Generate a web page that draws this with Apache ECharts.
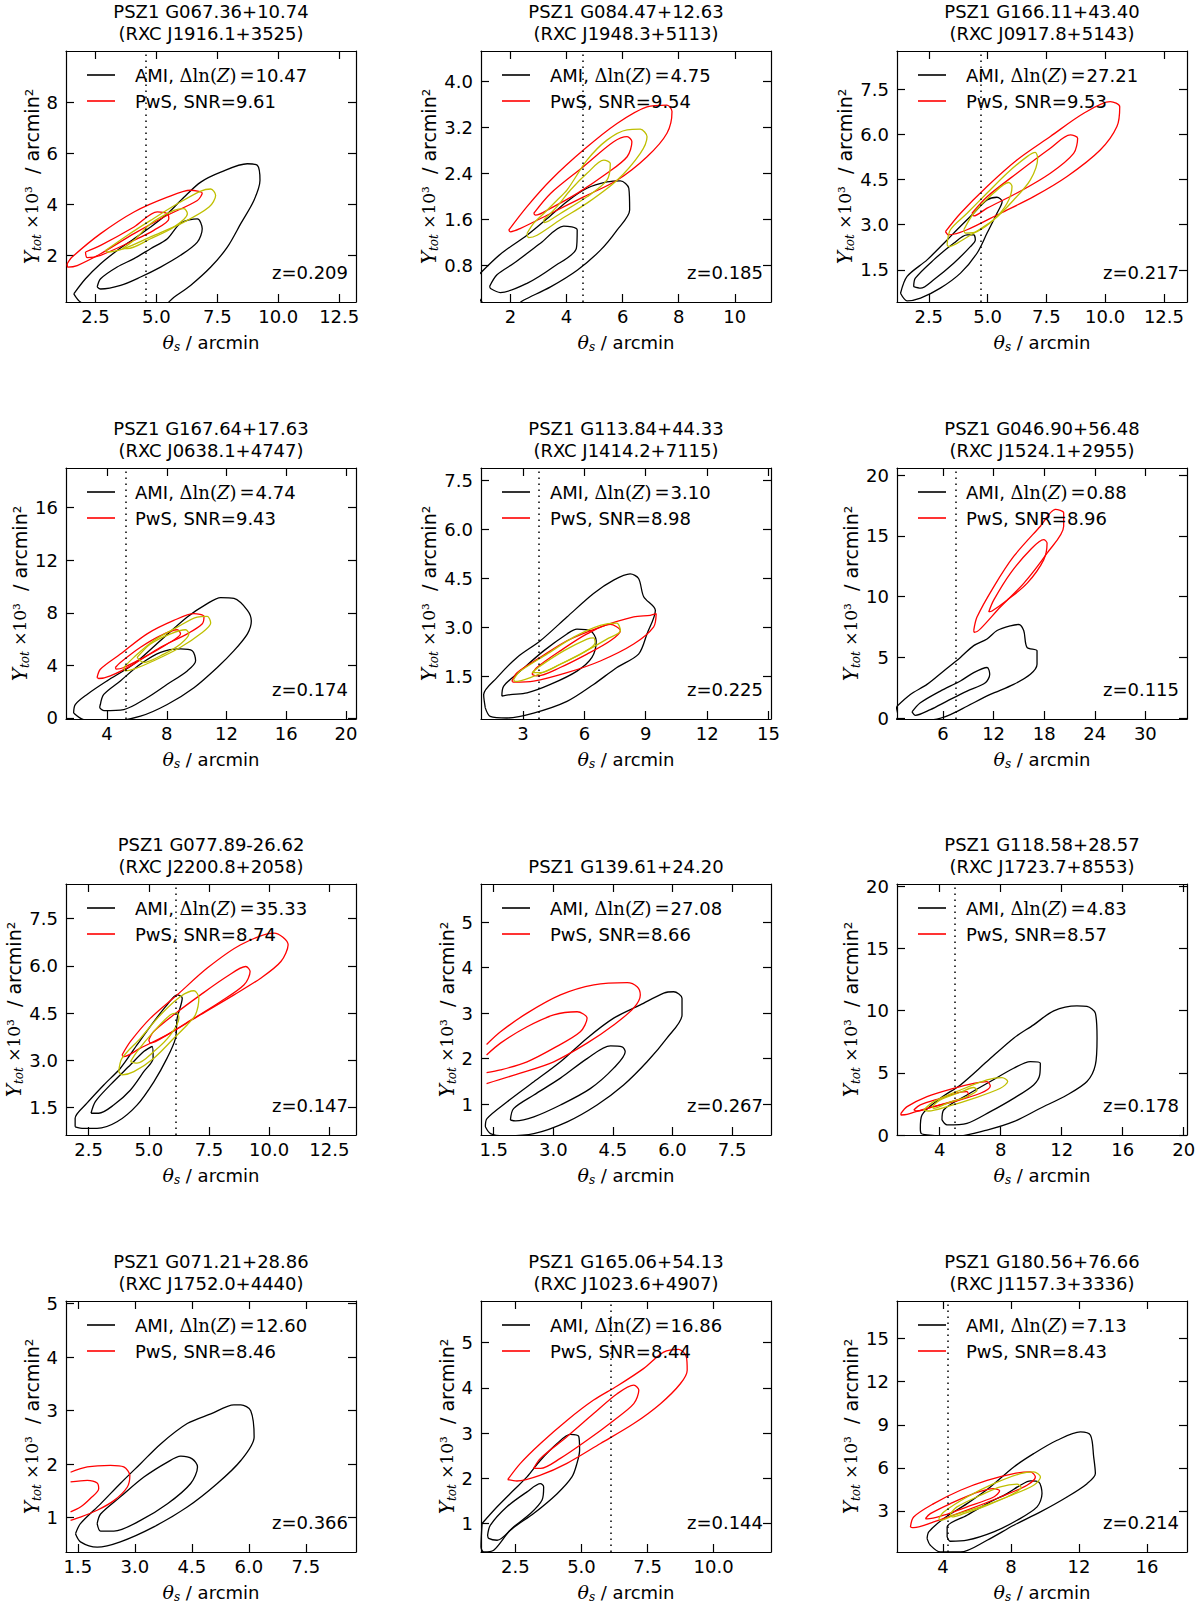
<!DOCTYPE html>
<html>
<head>
<meta charset="utf-8">
<script src="https://cdn.jsdelivr.net/npm/echarts@6/dist/echarts.min.js"></script>
<style>html,body{margin:0;padding:0;background:#fff}#main{width:1200px;height:1609px}</style>
</head>
<body>
<div id="main"></div>
<script>
// cluster names, one entry per panel (row by row)
const clusterNames = ['PSZ1 G067.36+10.74', 'PSZ1 G084.47+12.63', 'PSZ1 G166.11+43.40', 'PSZ1 G167.64+17.63',
  'PSZ1 G113.84+44.33', 'PSZ1 G046.90+56.48', 'PSZ1 G077.89-26.62', 'PSZ1 G139.61+24.20',
  'PSZ1 G118.58+28.57', 'PSZ1 G071.21+28.86', 'PSZ1 G165.06+54.13', 'PSZ1 G180.56+76.66'];
const rxcNames = ['(RXC J1916.1+3525)', '(RXC J1948.3+5113)', '(RXC J0917.8+5143)', '(RXC J0638.1+4747)',
  '(RXC J1414.2+7115)', '(RXC J1524.1+2955)', '(RXC J2200.8+2058)', '',
  '(RXC J1723.7+8553)', '(RXC J1752.0+4440)', '(RXC J1023.6+4907)', '(RXC J1157.3+3336)'];
const evidence = ['10.47', '4.75', '27.21', '4.74', '3.10', '0.88', '35.33', '27.08', '4.83', '12.60', '16.86', '7.13'];
const snr = ['9.61', '9.54', '9.53', '9.43', '8.98', '8.96', '8.74', '8.66', '8.57', '8.46', '8.44', '8.43'];
const redshift = ['0.209', '0.185', '0.217', '0.174', '0.225', '0.115', '0.147', '0.267', '0.178', '0.366', '0.144', '0.214'];
// dotted vertical line (theta_s), null = none
const thetaLine = [4.58, 4.59, 4.70, 5.25, 3.77, 7.54, 6.10, null, 4.98, null, 6.12, 4.27];

const xRange = [[1.29, 13.19], [0.95, 11.29], [1.15, 13.48], [1.25, 20.67], [0.95, 15.12], [0.54, 34.94],
  [1.56, 13.61], [1.18, 8.48], [1.2, 20.22], [1.19, 8.82], [1.2, 12.17], [1.29, 18.35]];
const yRange = [[0.16, 10.0], [0.155, 4.535], [0.43, 8.77], [-0.08, 19.02], [0.19, 7.89], [-0.08, 20.58],
  [0.63, 8.6], [0.32, 5.84], [0, 20.19], [0.36, 5.05], [0.37, 5.92], [0.14, 17.62]];

const xTickLabels = [
  ['2.5', '5.0', '7.5', '10.0', '12.5'], ['2', '4', '6', '8', '10'], ['2.5', '5.0', '7.5', '10.0', '12.5'],
  ['4', '8', '12', '16', '20'], ['3', '6', '9', '12', '15'], ['6', '12', '18', '24', '30'],
  ['2.5', '5.0', '7.5', '10.0', '12.5'], ['1.5', '3.0', '4.5', '6.0', '7.5'], ['4', '8', '12', '16', '20'],
  ['1.5', '3.0', '4.5', '6.0', '7.5'], ['2.5', '5.0', '7.5', '10.0'], ['4', '8', '12', '16']];
const yTickLabels = [
  ['2', '4', '6', '8'], ['0.8', '1.6', '2.4', '3.2', '4.0'], ['1.5', '3.0', '4.5', '6.0', '7.5'],
  ['0', '4', '8', '12', '16'], ['1.5', '3.0', '4.5', '6.0', '7.5'], ['0', '5', '10', '15', '20'],
  ['1.5', '3.0', '4.5', '6.0', '7.5'], ['1', '2', '3', '4', '5'], ['0', '5', '10', '15', '20'],
  ['1', '2', '3', '4', '5'], ['1', '2', '3', '4', '5'], ['3', '6', '9', '12', '15']];

// AMI contours (black)
const amiOuter = [
  [[1.61,0.48],[2.09,1.07],[2.71,1.66],[3.39,2.18],[4.08,2.64],[4.76,3.10],[5.45,3.62],[6.13,4.27],[6.82,4.86],[7.64,5.25],[8.73,5.58],[9.14,5.52],[9.25,4.93],[9.0,4.14],[8.46,3.23],[7.91,2.31],[7.23,1.53],[6.40,0.81],[5.72,0.35],[5.1,-0.1],[2.8,-0.1],[1.9,0.15]],
  [[0.81,0.60],[1.64,0.99],[2.59,1.32],[3.31,1.61],[4.02,1.91],[4.73,2.14],[5.44,2.25],[5.92,2.27],[6.22,2.14],[6.25,1.76],[5.80,1.41],[5.21,1.06],[4.38,0.71],[3.43,0.42],[2.48,0.19],[1.88,0.02],[1.05,0.13],[0.87,0.25]],
  [[1.30,0.72],[1.58,1.28],[2.43,1.83],[3.28,2.49],[3.70,2.83],[4.41,3.38],[4.98,3.82],[5.40,3.91],[5.62,3.77],[5.40,3.38],[4.98,2.72],[4.55,2.05],[3.85,1.39],[2.99,0.89],[2.15,0.56],[1.58,0.47]],
  [[1.76,0.38],[1.87,1.02],[2.66,1.79],[4.0,2.82],[5.79,4.10],[7.58,5.89],[9.37,7.68],[10.71,8.70],[11.61,9.16],[12.50,9.09],[13.40,8.19],[13.66,7.37],[13.40,6.40],[12.50,5.12],[11.38,3.84],[9.82,2.30],[8.03,1.02],[6.24,0.13],[4.22,-0.26],[2.43,-0.13]],
  [[1.16,0.53],[1.08,0.94],[1.73,1.46],[2.71,2.08],[3.85,2.59],[5.15,3.32],[6.45,4.04],[7.43,4.45],[8.24,4.64],[8.65,4.50],[8.90,3.94],[9.47,3.52],[9.06,2.80],[8.65,2.18],[7.59,1.77],[6.45,1.25],[5.15,0.73],[3.52,0.37],[2.22,0.22],[1.40,0.27]],
  [[0.54,0.97],[2.12,1.94],[4.10,2.77],[6.08,3.88],[8.06,4.99],[9.64,5.96],[11.22,6.51],[12.41,7.20],[13.99,7.59],[14.98,7.70],[15.57,7.20],[15.96,5.82],[17.15,5.54],[17.15,4.43],[16.36,3.60],[14.38,2.77],[11.61,1.94],[8.85,0.97],[6.87,0.28],[4.89,-0.14],[0.94,-0.28],[0.3,0.14]],
  [[1.94,0.89],[1.94,1.16],[2.43,1.64],[3.13,2.22],[3.82,2.75],[4.51,3.49],[5.21,4.23],[5.76,4.76],[6.18,5.08],[6.39,4.98],[6.18,4.34],[6.11,3.70],[5.76,3.07],[5.21,2.32],[4.51,1.58],[3.68,1.05],[2.85,0.84],[2.29,0.84]],
  [[1.29,0.50],[1.33,0.68],[1.84,1.05],[2.51,1.49],[3.18,1.93],[3.85,2.45],[4.52,2.89],[5.19,3.18],[5.78,3.44],[6.03,3.47],[6.24,3.33],[6.24,2.96],[5.86,2.45],[5.36,1.93],[4.77,1.42],[4.10,0.98],[3.35,0.61],[2.51,0.35],[1.75,0.30],[1.42,0.35]],
  [[2.73,0.54],[2.84,1.61],[4.04,2.95],[5.36,4.03],[7.10,5.91],[8.85,7.79],[10.16,8.86],[11.48,9.99],[13.0,10.39],[13.66,10.34],[14.21,9.80],[14.32,7.79],[14.21,5.64],[13.66,4.30],[12.35,3.22],[10.60,2.15],[8.85,1.07],[7.10,0.40],[4.92,-0.13],[3.17,0],[2.78,0.13]],
  [[1.44,0.70],[1.57,0.89],[2.10,1.26],[2.62,1.64],[3.15,2.01],[3.68,2.38],[4.38,2.76],[5.0,2.94],[5.61,3.11],[5.79,3.11],[6.05,3.0],[6.14,2.51],[5.79,2.07],[5.17,1.64],[4.38,1.20],[3.50,0.83],[2.62,0.55],[2.01,0.45],[1.57,0.55]],
  [[1.24,1.0],[1.81,1.37],[2.44,1.74],[2.94,2.03],[3.45,2.40],[4.08,2.77],[4.58,2.97],[4.90,2.92],[4.93,2.62],[4.83,2.33],[4.64,2.03],[4.08,1.66],[3.19,1.22],[2.31,0.85],[1.68,0.41],[1.30,0.37],[1.2,0.48]],
  [[3.06,1.07],[3.16,1.54],[4.04,2.47],[5.41,3.51],[6.78,4.67],[8.16,6.06],[9.33,6.99],[10.71,7.92],[12.08,8.50],[12.67,8.27],[12.86,6.76],[12.96,5.60],[12.47,4.90],[11.29,3.97],[9.73,2.93],[8.16,2.0],[6.59,0.96],[5.02,0.14],[3.84,0.14],[3.25,0.61]]
];
const amiInner = [
  [[2.57,0.75],[2.71,1.07],[3.39,1.53],[4.08,1.86],[4.76,2.25],[5.45,2.64],[5.99,3.25],[6.68,3.42],[6.88,3.03],[6.68,2.51],[5.99,1.99],[5.17,1.53],[4.35,1.14],[3.53,0.81],[2.71,0.67]],
  [[1.26,0.43],[1.52,0.63],[2.12,0.83],[3.07,1.18],[3.90,1.48],[4.38,1.41],[4.35,1.09],[3.54,0.77],[2.59,0.48],[1.64,0.32],[1.29,0.39]],
  [[1.86,0.94],[1.93,1.22],[2.71,1.83],[3.56,2.38],[4.13,2.66],[4.41,2.66],[4.48,2.49],[4.27,2.27],[3.56,1.72],[2.71,1.17],[2.15,0.89]],
  [[3.55,1.02],[3.78,1.79],[4.89,2.82],[6.24,4.10],[7.58,4.99],[8.92,5.25],[9.70,5.12],[9.93,4.35],[9.37,3.58],[8.03,2.56],[6.68,1.54],[5.12,0.64],[3.78,0.56],[3.51,0.82]],
  [[1.97,0.89],[2.06,1.20],[2.87,1.66],[4.01,2.28],[5.15,2.80],[5.64,2.95],[6.29,2.90],[6.58,2.59],[6.37,2.08],[5.64,1.66],[4.34,1.25],[3.20,0.99],[2.38,0.94]],
  [[2.32,0.50],[3.31,1.25],[5.68,2.22],[8.06,3.05],[9.64,3.74],[11.22,4.16],[11.54,3.60],[11.02,2.91],[8.85,2.22],[6.47,1.39],[4.50,0.69],[2.72,0.22]],
  [[2.60,1.32],[2.78,1.69],[3.40,2.22],[4.24,2.86],[4.79,3.28],[5.14,3.44],[5.18,3.07],[4.79,2.64],[4.24,2.06],[3.54,1.58],[2.92,1.32]],
  [[1.92,0.65],[2.0,0.90],[2.51,1.20],[3.18,1.57],[3.85,2.0],[4.44,2.28],[4.73,2.26],[4.81,2.15],[4.52,1.79],[3.93,1.34],[3.18,0.98],[2.51,0.72],[2.05,0.63]],
  [[4.15,1.21],[4.26,2.01],[5.79,3.22],[7.32,4.30],[8.85,5.37],[9.95,5.91],[10.60,5.77],[10.56,4.83],[10.16,4.03],[8.85,2.95],[7.32,1.88],[5.79,0.94],[4.48,0.81]],
  [[2.01,0.89],[2.10,1.07],[2.62,1.39],[3.24,1.76],[3.86,2.04],[4.21,2.15],[4.51,2.10],[4.65,1.95],[4.47,1.64],[3.86,1.26],[3.15,0.95],[2.45,0.75],[2.10,0.75]],
  [[1.45,0.74],[1.55,0.96],[2.18,1.37],[2.94,1.70],[3.45,1.88],[3.57,1.81],[3.51,1.52],[3.07,1.22],[2.44,0.93],[1.81,0.63],[1.49,0.67]],
  [[4.24,1.19],[4.24,1.88],[5.41,2.70],[6.59,3.51],[7.76,4.21],[8.55,4.79],[9.14,5.09],[9.63,5.02],[9.82,4.21],[9.53,3.28],[8.35,2.35],[6.98,1.54],[5.41,0.96],[4.43,0.89]]
];

// PwS contours (red)
const pwsOuter = [
  [[1.34,1.66],[1.54,1.92],[2.71,2.84],[4.08,3.69],[5.45,4.27],[6.40,4.54],[6.88,4.43],[6.68,4.14],[5.45,3.56],[4.08,2.84],[2.71,2.05],[1.75,1.59],[1.36,1.53]],
  [[1.94,1.41],[2.59,1.82],[3.43,2.28],[4.61,2.81],[5.80,3.27],[6.87,3.56],[7.58,3.59],[7.76,3.48],[7.58,3.10],[6.87,2.69],[5.80,2.28],[4.61,1.99],[3.43,1.70],[2.36,1.44],[2.0,1.38]],
  [[3.21,2.77],[3.85,3.38],[4.98,4.27],[6.25,5.15],[7.67,5.93],[9.09,6.70],[10.22,7.09],[10.62,6.92],[10.50,6.26],[9.79,5.48],[8.38,4.60],[6.96,3.93],[5.55,3.38],[4.13,2.83],[3.35,2.66]],
  [[3.33,3.07],[3.55,3.71],[4.89,4.86],[6.68,6.40],[8.47,7.42],[9.82,7.94],[10.49,7.73],[10.38,7.17],[9.37,6.40],[7.58,5.38],[5.79,4.10],[4.22,3.20],[3.44,3.0]],
  [[2.46,1.35],[2.71,1.61],[3.85,2.08],[5.15,2.59],[6.78,3.01],[8.41,3.32],[9.22,3.37],[9.51,3.42],[9.38,3.01],[8.41,2.49],[6.78,1.97],[5.15,1.61],[3.52,1.35],[2.54,1.32]],
  [[9.64,7.20],[10.03,8.31],[12.01,10.80],[14.38,13.30],[17.55,15.79],[19.33,17.17],[20.31,16.90],[20.31,15.79],[18.34,13.57],[15.57,11.08],[12.80,9.14],[10.43,7.34],[9.72,7.06]],
  [[3.89,3.17],[4.24,3.60],[5.07,4.34],[6.18,5.08],[7.43,5.93],[8.82,6.67],[10.21,7.04],[10.79,6.67],[10.49,6.14],[9.65,5.61],[8.54,5.08],[7.15,4.45],[5.76,3.81],[4.65,3.39],[3.96,3.12]],
  [[1.32,2.31],[1.67,2.59],[2.34,3.0],[3.18,3.40],[4.02,3.62],[4.86,3.67],[5.11,3.58],[5.19,3.40],[5.02,3.11],[4.52,2.74],[3.85,2.34],[3.01,1.93],[2.17,1.68],[1.32,1.45]],
  [[1.46,1.74],[1.86,2.28],[3.17,3.09],[4.92,3.76],[6.23,4.16],[7.10,4.30],[7.32,3.95],[6.67,3.36],[4.92,2.68],[3.17,2.15],[1.86,1.66],[1.46,1.61]],
  [[1.31,1.85],[1.75,1.95],[2.36,1.98],[2.71,1.95],[2.87,1.79],[2.80,1.57],[2.45,1.32],[2.01,1.14],[1.57,1.01],[1.31,0.95]],
  [[2.21,1.97],[2.69,2.33],[3.45,2.77],[4.45,3.28],[5.46,3.73],[6.35,4.04],[7.36,4.43],[8.11,4.79],[8.68,4.85],[8.97,4.68],[9.0,4.39],[8.74,4.09],[7.99,3.65],[6.98,3.21],[5.72,2.77],[4.45,2.33],[3.45,2.07],[2.56,1.94]],
  [[2.08,1.88],[2.27,2.58],[3.45,3.51],[5.02,4.44],[6.59,5.13],[8.16,5.60],[9.14,5.72],[9.43,5.37],[8.94,4.79],[7.37,3.97],[5.41,3.05],[3.45,2.23],[2.27,1.84]]
];
const pwsInner = [
  [[2.09,2.12],[2.71,2.38],[4.08,3.10],[5.04,3.69],[5.45,3.62],[5.51,3.42],[4.89,2.97],[4.08,2.58],[2.71,1.99],[2.16,1.90]],
  [[2.83,1.70],[3.43,2.05],[4.61,2.52],[5.68,2.95],[6.16,3.04],[6.33,2.95],[6.16,2.69],[5.44,2.40],[4.38,2.05],[3.43,1.79],[2.89,1.67]],
  [[4.34,3.38],[4.98,3.93],[6.25,4.71],[7.67,5.54],[8.52,5.98],[8.83,5.87],[8.66,5.37],[7.67,4.71],[6.25,4.05],[4.98,3.55],[4.41,3.29]],
  [[4.56,3.84],[4.89,4.22],[6.24,5.38],[7.58,6.27],[8.70,6.71],[8.92,6.40],[8.03,5.63],[6.68,4.74],[5.12,3.84],[4.61,3.71]],
  [[3.44,1.56],[3.68,1.77],[4.82,2.28],[6.13,2.80],[7.27,3.09],[7.76,2.90],[7.27,2.59],[6.13,2.18],[4.82,1.77],[3.68,1.51]],
  [[11.42,8.73],[12.01,9.70],[13.99,11.91],[16.36,13.85],[17.94,14.68],[18.34,14.40],[17.94,13.02],[15.96,11.08],[13.59,9.70],[11.81,8.81]],
  [[5.0,3.65],[5.21,3.92],[6.04,4.45],[7.15,5.08],[8.26,5.67],[9.03,5.98],[9.21,5.82],[8.96,5.40],[7.99,4.87],[6.88,4.34],[5.76,3.81],[5.07,3.55]],
  [[1.32,2.08],[1.67,2.34],[2.34,2.70],[3.01,2.96],[3.60,3.03],[3.85,2.89],[3.68,2.59],[3.01,2.23],[2.34,1.93],[1.67,1.75],[1.32,1.69]],
  [[2.30,2.01],[2.73,2.42],[4.04,2.95],[5.36,3.44],[5.79,3.49],[5.90,3.17],[5.14,2.82],[3.61,2.28],[2.51,1.93]],
  [[1.31,1.67],[1.75,1.70],[2.01,1.65],[2.05,1.54],[1.83,1.36],[1.57,1.20],[1.31,1.11]],
  [[3.19,2.22],[3.45,2.44],[4.45,2.92],[5.46,3.43],[6.35,3.87],[6.98,4.06],[7.17,3.95],[6.98,3.65],[6.22,3.28],[5.21,2.84],[4.20,2.44],[3.45,2.22]],
  [[2.96,2.47],[3.25,2.81],[4.43,3.51],[5.80,4.21],[6.98,4.55],[7.33,4.40],[6.98,3.97],[5.41,3.28],[4.04,2.70],[3.06,2.44]]
];
// PwS contours cut by the prior edge (not closed)
const pwsOpen = [false, false, false, false, false, false, false, true, false, true, false, false];

// joint contours (yellow)
const jointOuter = [
  [[2.91,2.18],[3.80,2.77],[4.76,3.36],[5.86,4.01],[6.82,4.51],[7.23,4.59],[7.43,4.34],[7.16,3.88],[6.13,3.29],[4.76,2.71],[3.66,2.25],[2.98,2.12]],
  [[2.59,1.35],[2.83,1.53],[3.19,1.70],[3.66,1.93],[4.02,2.11],[4.73,2.63],[5.44,2.98],[6.16,3.16],[6.63,3.17],[6.87,3.04],[6.63,2.75],[5.80,2.28],[4.73,1.88],[3.78,1.59],[2.95,1.32],[2.65,1.28]],
  [[3.28,2.33],[3.42,2.83],[4.13,3.38],[4.98,4.05],[5.83,4.71],[6.68,5.26],[7.03,5.40],[7.13,5.21],[6.82,4.49],[6.11,3.82],[5.26,3.16],[4.41,2.72],[3.70,2.38],[3.35,2.27]],
  [[5.12,3.84],[5.79,4.61],[7.13,5.89],[8.70,6.91],[10.04,7.68],[10.71,7.73],[10.94,7.22],[10.26,6.40],[8.92,5.38],[7.13,4.35],[5.79,3.71],[5.23,3.58]],
  [[2.54,1.40],[2.87,1.66],[4.17,2.18],[5.48,2.70],[6.78,3.06],[7.59,3.13],[7.76,2.90],[7.10,2.64],[5.80,2.18],[4.50,1.77],[3.36,1.46],[2.62,1.34]],
  null,
  [[3.75,2.64],[3.89,3.07],[4.65,3.70],[5.49,4.45],[6.32,5.03],[6.88,5.21],[7.08,4.98],[6.94,4.45],[6.60,4.13],[6.04,3.70],[5.21,3.07],[4.38,2.64],[3.89,2.54]],
  null,
  [[2.95,2.01],[3.61,2.68],[5.36,3.62],[7.10,4.43],[8.09,4.62],[8.46,4.30],[7.98,3.76],[6.23,2.95],[4.48,2.28],[3.28,1.93]],
  null,
  null,
  [[3.75,2.47],[4.04,2.93],[5.41,3.97],[6.98,4.90],[8.55,5.60],[9.33,5.72],[9.73,5.37],[9.33,4.79],[7.76,3.97],[6.20,3.28],[4.63,2.70],[3.84,2.35]]
];
const jointInner = [
  [[3.60,2.25],[4.08,2.58],[4.76,3.23],[5.72,3.75],[6.13,3.82],[6.27,3.62],[5.72,3.10],[4.76,2.64],[3.80,2.25]],
  [[3.19,1.59],[3.66,1.82],[4.14,2.11],[4.73,2.40],[5.33,2.63],[5.56,2.57],[5.44,2.28],[4.73,1.99],[3.78,1.70],[3.21,1.54]],
  [[3.99,2.83],[4.41,3.38],[5.26,4.05],[5.90,4.40],[6.04,4.27],[5.83,3.71],[5.26,3.16],[4.55,2.77],[4.06,2.72]],
  [[6.01,4.61],[6.91,5.63],[8.25,6.40],[9.26,6.71],[9.48,6.40],[8.92,5.63],[7.80,4.86],[6.46,4.22]],
  [[3.44,1.61],[3.85,1.82],[4.99,2.28],[6.13,2.64],[6.45,2.68],[6.53,2.54],[5.96,2.23],[4.82,1.87],[3.85,1.61]],
  null,
  [[4.24,2.96],[4.51,3.28],[5.21,3.92],[5.90,4.45],[6.18,4.50],[6.25,4.34],[5.90,3.81],[5.21,3.28],[4.51,2.91]],
  null,
  [[3.50,2.28],[4.04,2.82],[5.36,3.44],[6.23,3.82],[6.45,3.62],[5.79,3.09],[4.48,2.55],[3.61,2.15]],
  null,
  null,
  [[4.43,2.81],[4.82,3.28],[6.20,4.09],[7.37,4.67],[8.35,4.86],[8.59,4.63],[7.96,4.09],[6.59,3.39],[5.22,2.81],[4.53,2.58]]
];

// layout
const colLeft = [66, 481, 897];
const rowTop = [51, 468, 884, 1301];
const W = 290, H = 251;
const FONT = 'DejaVu Sans';
const BLACK = '#000000', RED = '#ff0000', YELLOW = '#bfbf00';

const chart = echarts.init(document.getElementById('main'), null, { renderer: 'svg' });

const measure = document.createElement('canvas').getContext('2d');
measure.font = '18px "DejaVu Sans"';

const grid = [], xAxis = [], yAxis = [], series = [], legend = [], graphic = [];

const lineAxis = { show: true, onZero: false, lineStyle: { color: BLACK, width: 1.2 } };

function addContour(i, pts, color, name, open, z, extra) {
  if (!pts) return;
  const data = open ? pts : pts.concat([pts[0]]);
  series.push(Object.assign({
    type: 'line', name, xAxisIndex: 2 * i, yAxisIndex: 2 * i, data,
    smooth: 0.3, symbol: 'none', color, clip: true, silent: true, z,
    lineStyle: { color, width: 1.3 }
  }, extra || {}));
}

for (let i = 0; i < 12; i++) {
  const left = colLeft[i % 3], top = rowTop[Math.floor(i / 3)];
  grid.push({ left, top, width: W, height: H });

  const xv = xTickLabels[i].map(Number), yv = yTickLabels[i].map(Number);
  const xl = v => { const k = xv.indexOf(v); return k < 0 ? '' : xTickLabels[i][k]; };
  const yl = v => { const k = yv.indexOf(v); return k < 0 ? '' : yTickLabels[i][k]; };
  const yLabW = Math.max(...yTickLabels[i].map(s => measure.measureText(s).width));

  const tick = vals => ({ show: true, inside: true, length: 8, customValues: vals, lineStyle: { color: BLACK, width: 1.2 } });

  xAxis.push({
    type: 'value', gridIndex: i, position: 'bottom', min: xRange[i][0], max: xRange[i][1],
    axisLine: lineAxis, axisTick: tick(xv), splitLine: { show: false },
    axisLabel: { customValues: xv, formatter: xl, margin: 5, color: BLACK, fontFamily: FONT, fontSize: 18 },
    name: '{th|θ}{sub|s}{s| / arcmin}', nameLocation: 'middle', nameGap: 29,
    nameTextStyle: {
      color: BLACK, fontFamily: FONT, fontSize: 18,
      rich: {
        th: { fontFamily: 'DejaVu Serif', fontStyle: 'italic', fontSize: 19, lineHeight: 22 },
        sub: { fontFamily: 'DejaVu Serif', fontStyle: 'italic', fontSize: 12, lineHeight: 12, verticalAlign: 'bottom' },
        s: { fontFamily: FONT, fontSize: 18, lineHeight: 22 }
      }
    }
  });
  xAxis.push({
    type: 'value', gridIndex: i, position: 'top', min: xRange[i][0], max: xRange[i][1],
    axisLine: lineAxis, axisTick: tick(xv), splitLine: { show: false }, axisLabel: { show: false }
  });
  yAxis.push({
    type: 'value', gridIndex: i, position: 'left', min: yRange[i][0], max: yRange[i][1],
    axisLine: lineAxis, axisTick: tick(yv), splitLine: { show: false },
    axisLabel: { customValues: yv, formatter: yl, margin: 8, color: BLACK, fontFamily: FONT, fontSize: 18 },
    name: '{Y|Y}{sub|tot}{m| ×10³}{s|  / arcmin²}', nameLocation: 'middle', nameGap: Math.round(yLabW + 11),
    nameTextStyle: {
      color: BLACK, fontFamily: FONT, fontSize: 18,
      rich: {
        Y: { fontFamily: 'DejaVu Serif', fontStyle: 'italic', fontSize: 20, lineHeight: 22 },
        sub: { fontFamily: 'DejaVu Serif', fontStyle: 'italic', fontSize: 12, lineHeight: 12, verticalAlign: 'bottom' },
        m: { fontFamily: 'DejaVu Serif', fontSize: 17, lineHeight: 22 },
        s: { fontFamily: FONT, fontSize: 19, lineHeight: 22 }
      }
    }
  });
  yAxis.push({
    type: 'value', gridIndex: i, position: 'right', min: yRange[i][0], max: yRange[i][1],
    axisLine: lineAxis, axisTick: tick(yv), splitLine: { show: false }, axisLabel: { show: false }
  });

  const vline = thetaLine[i] == null ? {} : {
    markLine: {
      silent: true, symbol: ['none', 'none'], label: { show: false }, animation: false,
      lineStyle: { color: BLACK, type: [1.5, 4.5], width: 1.5 },
      data: [{ xAxis: thetaLine[i] }]
    }
  };
  addContour(i, amiOuter[i], BLACK, 'AMI' + i, false, 2, vline);
  addContour(i, amiInner[i], BLACK, 'AMI' + i, false, 2);
  addContour(i, pwsOuter[i], RED, 'PwS' + i, pwsOpen[i], 3);
  addContour(i, pwsInner[i], RED, 'PwS' + i, pwsOpen[i], 3);
  addContour(i, jointOuter[i], YELLOW, 'Joint' + i, false, 4);
  addContour(i, jointInner[i], YELLOW, 'Joint' + i, false, 4);

  legend.push({
    left: left + 21, top: top + 15, orient: 'vertical', padding: 0,
    itemWidth: 28, itemHeight: 1.6, itemGap: 8, icon: 'rect', selectedMode: false,
    data: ['AMI' + i, 'PwS' + i],
    formatter: name => name.indexOf('AMI') === 0
      ? '{g|AMI, }{m|Δln(}{z|Z}{m|)}{e|=}{s|' + evidence[i] + '}'
      : '{g|PwS, SNR=' + snr[i] + '}',
    textStyle: {
      color: BLACK, fontFamily: FONT, fontSize: 18,
      rich: {
        g: { fontFamily: FONT, fontSize: 18, lineHeight: 20, padding: [0, 0, 0, 15] },
        m: { fontFamily: 'DejaVu Serif', fontSize: 18, lineHeight: 20 },
        z: { fontFamily: 'DejaVu Serif', fontStyle: 'italic', fontSize: 18, lineHeight: 20 },
        e: { fontFamily: 'DejaVu Serif', fontSize: 18, lineHeight: 20, padding: [0, 1, 0, 3] },
        s: { fontFamily: FONT, fontSize: 18, lineHeight: 20 }
      }
    }
  });

  // titles above each panel
  const cx = left + W / 2;
  if (rxcNames[i]) {
    graphic.push({ type: 'text', x: cx, y: top - 39.5, silent: true,
      style: { text: clusterNames[i], fill: BLACK, font: '18px "DejaVu Sans"', align: 'center', verticalAlign: 'middle' } });
    graphic.push({ type: 'text', x: cx, y: top - 18, silent: true,
      style: { text: rxcNames[i], fill: BLACK, font: '18px "DejaVu Sans"', align: 'center', verticalAlign: 'middle' } });
  } else {
    graphic.push({ type: 'text', x: cx, y: top - 18, silent: true,
      style: { text: clusterNames[i], fill: BLACK, font: '18px "DejaVu Sans"', align: 'center', verticalAlign: 'middle' } });
  }
  // redshift label
  graphic.push({ type: 'text', x: left + W - 8, y: top + H - 30, silent: true, z: 10,
    style: { text: 'z=' + redshift[i], fill: BLACK, font: '18px "DejaVu Sans"', align: 'right', verticalAlign: 'middle' } });
}

chart.setOption({
  animation: false,
  backgroundColor: '#ffffff',
  grid, xAxis, yAxis, series, legend, graphic
});
</script>
</body>
</html>
